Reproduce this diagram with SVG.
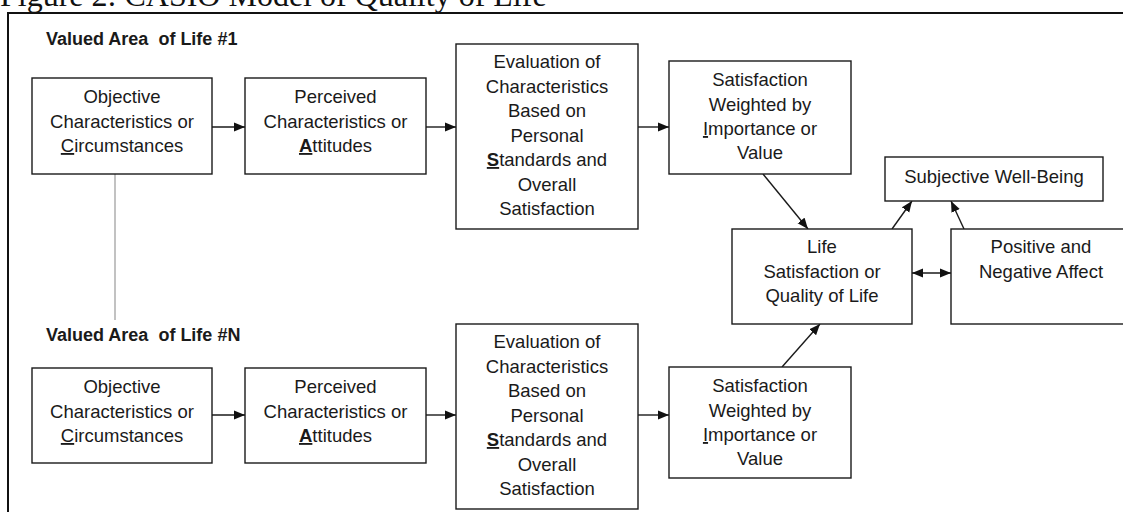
<svg xmlns="http://www.w3.org/2000/svg" width="1123" height="512" viewBox="0 0 1123 512">
<defs>
<style>
.bx{fill:#fff;stroke:#1a1a1a;stroke-width:1.4}
.t{font-family:"Liberation Sans",Arial,sans-serif;font-size:18.5px;fill:#1a1a1a;text-anchor:middle}
.h{font-family:"Liberation Sans",Arial,sans-serif;font-size:18px;font-weight:bold;fill:#1a1a1a}
.u{text-decoration:underline}
.b{font-weight:bold}
.c{stroke:#1a1a1a;stroke-width:1.4;fill:none}
</style>
<marker id="ah" markerUnits="userSpaceOnUse" markerWidth="12" markerHeight="10" refX="11" refY="5" orient="auto-start-reverse">
<path d="M0,0.5 L11,5 L0,9.5 z" fill="#111"/>
</marker>
</defs>
<rect width="1123" height="512" fill="#fff"/>
<text x="0" y="6" font-family="'Liberation Serif','Times New Roman',serif" font-size="32" fill="#111">Figure 2: CASIO Model of Quality of Life</text>
<rect x="8" y="13" width="1130" height="520" fill="none" stroke="#111" stroke-width="2"/>

<text class="h" x="46" y="45" xml:space="preserve">Valued Area  of Life #1</text>
<text class="h" x="46" y="341" xml:space="preserve">Valued Area  of Life #N</text>

<g id="connectors">
<line x1="115" y1="174" x2="115" y2="320" stroke="#999" stroke-width="1.2"/>
<line class="c" x1="212" y1="127" x2="245" y2="127" marker-end="url(#ah)"/>
<line class="c" x1="426" y1="127" x2="456" y2="127" marker-end="url(#ah)"/>
<line class="c" x1="638" y1="127" x2="669" y2="127" marker-end="url(#ah)"/>
<line class="c" x1="212" y1="415" x2="245" y2="415" marker-end="url(#ah)"/>
<line class="c" x1="426" y1="415" x2="456" y2="415" marker-end="url(#ah)"/>
<line class="c" x1="638" y1="415" x2="669" y2="415" marker-end="url(#ah)"/>
<line class="c" x1="763" y1="174" x2="808" y2="229" marker-end="url(#ah)"/>
<line class="c" x1="782" y1="367" x2="820" y2="324" marker-end="url(#ah)"/>
<line class="c" x1="892" y1="229" x2="912" y2="201" marker-end="url(#ah)"/>
<line class="c" x1="964" y1="229" x2="951" y2="201" marker-end="url(#ah)"/>
<line class="c" x1="912" y1="273" x2="951" y2="273" marker-start="url(#ah)" marker-end="url(#ah)"/>
</g>

<g id="obj1">
<rect class="bx" x="32" y="78" width="180" height="96"/>
<text class="t" x="122" y="103">Objective</text>
<text class="t" x="122" y="128">Characteristics or</text>
<text class="t" x="122" y="152"><tspan class="u">C</tspan>ircumstances</text>
</g>
<g id="per1">
<rect class="bx" x="245" y="78" width="181" height="96"/>
<text class="t" x="335.5" y="103">Perceived</text>
<text class="t" x="335.5" y="128">Characteristics or</text>
<text class="t" x="335.5" y="152"><tspan class="u b">A</tspan>ttitudes</text>
</g>
<g id="eval1">
<rect class="bx" x="456" y="44" width="182" height="185"/>
<text class="t" x="547" y="68">Evaluation of</text>
<text class="t" x="547" y="92.5">Characteristics</text>
<text class="t" x="547" y="117">Based on</text>
<text class="t" x="547" y="141.5">Personal</text>
<text class="t" x="547" y="166"><tspan class="u b">S</tspan>tandards and</text>
<text class="t" x="547" y="190.5">Overall</text>
<text class="t" x="547" y="215">Satisfaction</text>
</g>
<g id="sat1">
<rect class="bx" x="669" y="61" width="182" height="113"/>
<text class="t" x="760" y="86">Satisfaction</text>
<text class="t" x="760" y="111">Weighted by</text>
<text class="t" x="760" y="135"><tspan class="u">I</tspan>mportance or</text>
<text class="t" x="760" y="159">Value</text>
</g>

<g id="objN">
<rect class="bx" x="32" y="368" width="180" height="95"/>
<text class="t" x="122" y="393">Objective</text>
<text class="t" x="122" y="418">Characteristics or</text>
<text class="t" x="122" y="442"><tspan class="u">C</tspan>ircumstances</text>
</g>
<g id="perN">
<rect class="bx" x="245" y="368" width="181" height="95"/>
<text class="t" x="335.5" y="393">Perceived</text>
<text class="t" x="335.5" y="418">Characteristics or</text>
<text class="t" x="335.5" y="442"><tspan class="u b">A</tspan>ttitudes</text>
</g>
<g id="evalN">
<rect class="bx" x="456" y="324" width="182" height="185"/>
<text class="t" x="547" y="348">Evaluation of</text>
<text class="t" x="547" y="372.5">Characteristics</text>
<text class="t" x="547" y="397">Based on</text>
<text class="t" x="547" y="421.5">Personal</text>
<text class="t" x="547" y="446"><tspan class="u b">S</tspan>tandards and</text>
<text class="t" x="547" y="470.5">Overall</text>
<text class="t" x="547" y="495">Satisfaction</text>
</g>
<g id="satN">
<rect class="bx" x="669" y="367" width="182" height="111"/>
<text class="t" x="760" y="392">Satisfaction</text>
<text class="t" x="760" y="417">Weighted by</text>
<text class="t" x="760" y="441"><tspan class="u">I</tspan>mportance or</text>
<text class="t" x="760" y="465">Value</text>
</g>

<g id="life">
<rect class="bx" x="732" y="229" width="180" height="95"/>
<text class="t" x="822" y="253">Life</text>
<text class="t" x="822" y="278">Satisfaction or</text>
<text class="t" x="822" y="302">Quality of Life</text>
</g>
<g id="swb">
<rect class="bx" x="885" y="157" width="218" height="44"/>
<text class="t" x="994" y="183">Subjective Well-Being</text>
</g>
<g id="affect">
<rect class="bx" x="951" y="229" width="181" height="95"/>
<text class="t" x="1041" y="253">Positive and</text>
<text class="t" x="1041" y="278">Negative Affect</text>
</g>
</svg>
